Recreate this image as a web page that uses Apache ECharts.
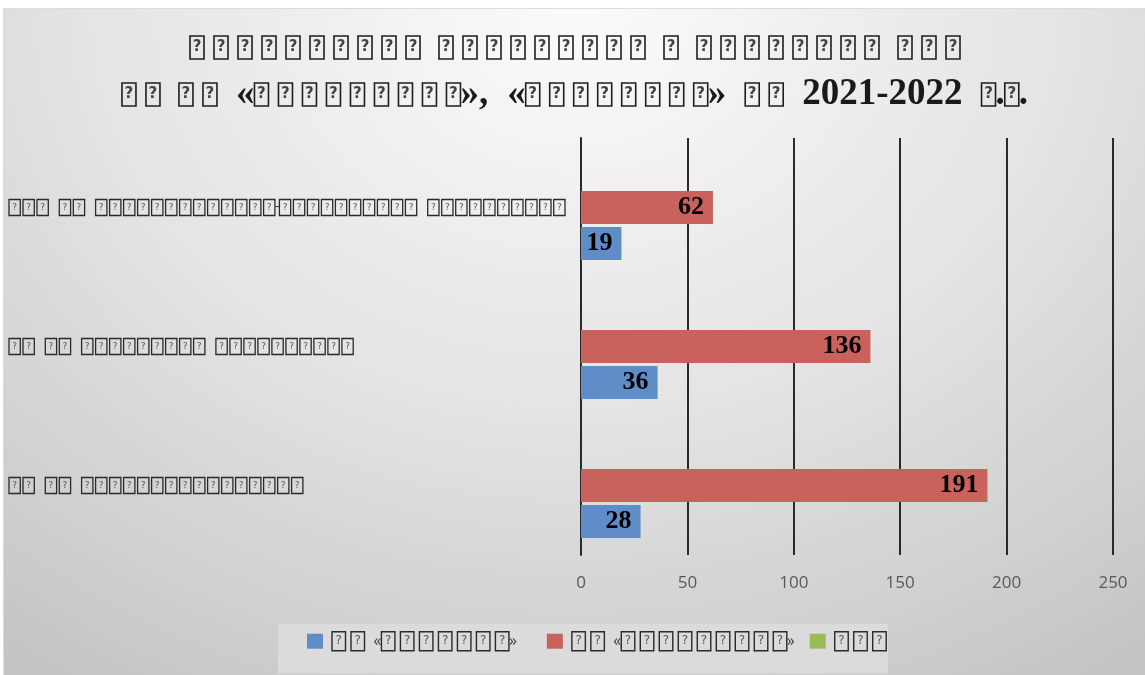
<!DOCTYPE html>
<html>
<head>
<meta charset="utf-8">
<script src="https://cdn.jsdelivr.net/npm/echarts@6/dist/echarts.min.js"></script>
<style>
  html, body { margin: 0; padding: 0; background: #ffffff; }
  #wrap { position: absolute; left: 3px; top: 8px; width: 1142px; height: 667px;
          background: radial-gradient(ellipse 85% 120% at 50% 0%, #fbfbfb 0%, #e4e4e4 50%, #c4c4c4 100%);
          border-top: 1px solid #dcdcdc; border-left: 1px solid #dcdcdc; box-sizing: border-box; }
  #chart { width: 1142px; height: 667px; }
</style>
</head>
<body>
<div id="wrap"><div id="chart"></div></div>
<script>
// Text in the reference is drawn as missing-glyph boxes; '?' marks each box.
const titleLines = ['?????????? ????????? ? ???????? ???', '?? ?? «?????????», «????????» ?? 2021-2022 ?.?.'];
const categories = ['??? ?? ?????????????-?????????? ??????????', '?? ?? ????????? ??????????', '?? ?? ????????????????'];
const seriesNames = ['?? «???????»', '?? «?????????»', '???'];
const blueValues = [19, 36, 28];
const redValues = [62, 136, 191];
const greenValues = [null, null, null];
const xTicks = [0, 50, 100, 150, 200, 250];

function richify(str, p) {
  let out = '';
  for (let i = 0; i < str.length; i++) {
    const c = str[i];
    if (c === '?') {
      out += '{' + p + 'b|?}';
      if (str[i + 1] === '?') out += '{' + p + 'g| }';
    } else if (c === ' ') {
      out += '{' + p + 's| }';
    } else {
      out += '{' + p + 't|' + c + '}';
    }
  }
  return out;
}
function richStyles(p, c) {
  const r = {};
  r[p + 'b'] = { width: c.bw, height: c.bh, borderColor: c.bc, borderWidth: c.bwd, fontSize: c.qs,
    color: c.qc, align: 'center', verticalAlign: 'middle', fontFamily: 'DejaVu Sans', lineHeight: c.lh };
  r[p + 'g'] = { width: c.gap, fontSize: 4, lineHeight: c.lh, verticalAlign: 'middle' };
  r[p + 's'] = { width: c.sp, fontSize: 4, lineHeight: c.lh, verticalAlign: 'middle' };
  r[p + 't'] = { fontSize: c.fs, fontWeight: c.fw, fontFamily: c.ff, color: c.tc, lineHeight: c.lh, verticalAlign: 'middle' };
  return r;
}
const titleRich = richStyles('T', { bw: 14, bh: 23, gap: 10, sp: 19, qs: 15, qc: '#444', bc: '#1e1e1e', bwd: 1.6,
  fs: 37, fw: 'bold', ff: 'Liberation Serif', tc: '#1a1a1a', lh: 47 });
const catRich = richStyles('C', { bw: 11.3, bh: 16, gap: 2.7, sp: 11, qs: 9, qc: '#555', bc: '#2a2a2a', bwd: 1.3,
  fs: 14, fw: 'normal', ff: 'Open Sans', tc: '#333', lh: 20 });
const legRich = richStyles('L', { bw: 13.5, bh: 19, gap: 5.5, sp: 9, qs: 12, qc: '#555', bc: '#2a2a2a', bwd: 1.4,
  fs: 16, fw: 'normal', ff: 'Open Sans', tc: '#404040', lh: 22 });
legRich.Lpad = { width: 4, fontSize: 4, lineHeight: 22 };
legRich.Ltail = { width: 15, fontSize: 4, lineHeight: 22 };

const chart = echarts.init(document.getElementById('chart'), null, { renderer: 'canvas' });
const labelStyle = { show: true, position: 'insideRight', distance: 9, color: '#000',
  fontFamily: 'Liberation Serif', fontWeight: 'bold', fontSize: 26 };

chart.setOption({
  backgroundColor: 'transparent',
  animation: false,
  title: {
    text: titleLines.map(l => richify(l, 'T')).join('\n'),
    left: 'center', top: 10,
    textStyle: { rich: titleRich, lineHeight: 47 }
  },
  legend: {
    data: seriesNames,
    left: 274, top: 615,
    padding: [7, 1, 22, 29],
    backgroundColor: '#dbdbdb',
    icon: 'rect', itemWidth: 16, itemHeight: 15, itemGap: 15,
    formatter: n => '{Lpad| }' + richify(n, 'L') + (n === seriesNames[0] ? '{Ltail| }' : ''),
    textStyle: { rich: legRich }
  },
  grid: { left: 577, top: 129, width: 532, height: 417, containLabel: false },
  xAxis: {
    type: 'value', min: xTicks[0], max: xTicks[xTicks.length - 1], interval: 50,
    axisLine: { show: false }, axisTick: { show: false },
    splitLine: { show: true, lineStyle: { color: '#2a2a2a', width: 2 } },
    axisLabel: { color: '#595959', fontSize: 17, fontFamily: 'Open Sans', margin: 20 }
  },
  yAxis: {
    type: 'category', data: categories, inverse: true,
    axisLine: { show: true, lineStyle: { color: '#2a2a2a', width: 2 } },
    axisTick: { show: false },
    axisLabel: { align: 'left', margin: 572, formatter: v => richify(v, 'C'), rich: catRich }
  },
  series: [
    { name: seriesNames[2], type: 'bar', data: greenValues, barWidth: 33, barGap: '9%',
      itemStyle: { color: '#9bbb59' } },
    { name: seriesNames[1], type: 'bar', data: redValues, barWidth: 33, barGap: '9%',
      itemStyle: { color: '#c9615c' }, label: labelStyle },
    { name: seriesNames[0], type: 'bar', data: blueValues, barWidth: 33, barGap: '9%',
      itemStyle: { color: '#5f8dc8' }, label: labelStyle }
  ]
});
</script>
</body>
</html>
